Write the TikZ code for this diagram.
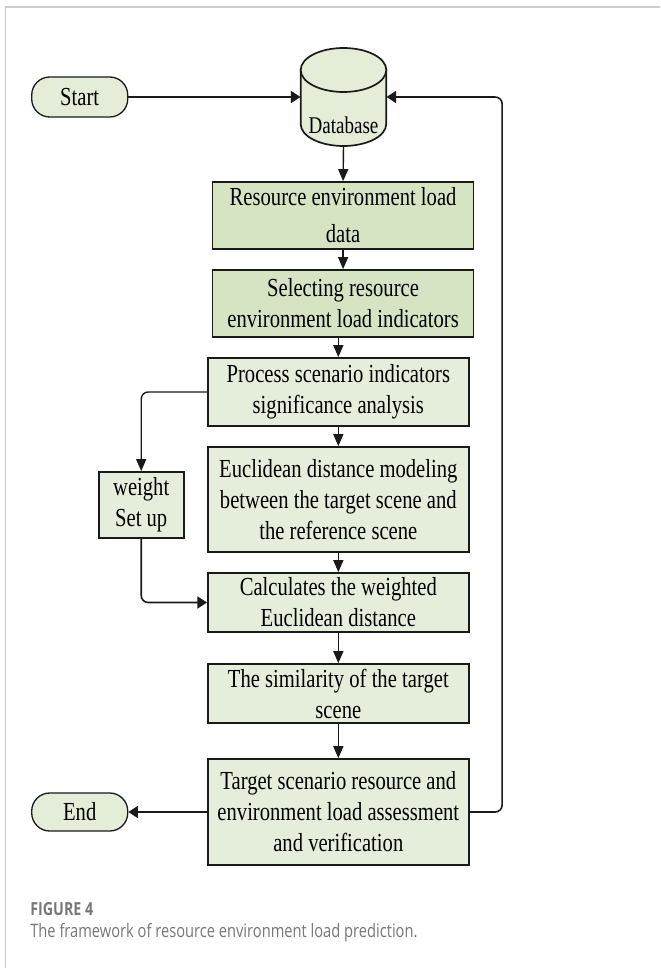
\documentclass[tikz,border=0pt]{standalone}
\usepackage{fontspec}
\setmainfont{Liberation Serif}[FakeStretch=0.7933]
\newfontfamily\capfont{Open Sans}[FakeStretch=0.7933]
\usetikzlibrary{arrows.meta}
\definecolor{darkfill}{HTML}{D6E4C3}
\definecolor{lightfill}{HTML}{E5EEDA}
\definecolor{termfill}{HTML}{E3EDD8}
\definecolor{edge}{HTML}{1A1A1A}
\definecolor{framegray}{HTML}{CCCCCC}
\definecolor{capgray}{HTML}{777777}
\begin{document}
\begin{tikzpicture}[x=0.79327pt,y=-1pt,
  boxtext/.style={font=\fontsize{26}{31}\selectfont, align=center, text=black},
  procbox/.style={boxtext, draw=edge, line width=1.7pt, fill=lightfill, minimum width=261pt, inner sep=0pt},
  darkbox/.style={procbox, fill=darkfill},
  termbox/.style={boxtext, draw=edge, line width=1.3pt, fill=termfill, rounded corners=18pt, minimum width=96pt, inner sep=0pt},
  varr/.style={draw=edge, line width=1.4pt, -{Triangle[length=12pt,width=10pt]}},
  harr/.style={draw=edge, line width=1.6pt, -{Triangle[length=9.5pt,width=12pt]}},
  capbold/.style={font=\capfont\bfseries\fontsize{18}{22}\selectfont, text=capgray, anchor=west, inner sep=0pt},
  captext/.style={font=\capfont\fontsize{18.5}{22}\selectfont, text=capgray, anchor=west, inner sep=0pt}
]
\useasboundingbox (0,0) rectangle (832,968);
\fill[white] (0,0) rectangle (832,968);
\draw[framegray, line width=1.5pt] (7,968) -- (7,7) -- (832,7);

% terminals
\node[termbox, minimum height=40pt] (start) at (100.5,97) {Start};
\node[termbox, minimum height=38pt] (end) at (100.5,812) {End};

% database cylinder
\node[minimum width=85.7pt, minimum height=98pt, inner sep=0pt] (db) at (433,97) {};
\filldraw[fill=termfill, draw=edge, line width=1.7pt]
  (379,70) -- (379,124) arc[start angle=180, end angle=360, x radius=42.8pt, y radius=22pt] -- (487,70) -- cycle;
\filldraw[fill=termfill, draw=edge, line width=1.7pt] (433,70) ellipse [x radius=42.8pt, y radius=22pt];
\node[font=\fontsize{24}{28}\selectfont, inner sep=0pt] (dbtext) at (433,125) {Database};

% process boxes
\node[darkbox, minimum height=67pt] (b1) at (432.5,215.5) {Resource environment load\\[6pt]data};
\node[darkbox, minimum height=67pt] (b2) at (432.5,303.5) {Selecting resource\\environment load indicators};
\node[procbox, minimum height=68pt] (b3) at (426.5,392) {Process scenario indicators\\significance analysis};
\node[procbox, minimum height=105pt] (b4) at (426.5,499.5) {Euclidean distance modeling\\between the target scene and\\the reference scene};
\node[procbox, minimum height=59pt] (b5) at (426.5,602.5) {Calculates the weighted\\Euclidean distance};
\node[procbox, minimum height=59pt] (b6) at (426.5,693.5) {The similarity of the target\\scene};
\node[procbox, minimum height=106pt] (b7) at (426.5,812) {Target scenario resource and\\environment load assessment\\and verification};
\node[procbox, minimum width=85pt, minimum height=66pt] (wt) at (178,505) {weight\\Set up};

% connectors
\draw[harr] (start.east) -- (db.west);
\draw[varr] (db.south) -- (b1.north);
\draw[varr] (b1.south) -- (b2.north);
\draw[varr] (b2.south -| b3.north) -- (b3.north);
\draw[varr] (b3.south) -- (b4.north);
\draw[varr] (b4.south) -- (b5.north);
\draw[varr] (b5.south) -- (b6.north);
\draw[varr] (b6.south) -- (b7.north);
\draw[varr, rounded corners=7pt] (b3.west) -| (wt.north);
\draw[harr, rounded corners=7pt] (wt.south) |- (b5.west);
\draw[harr] (b7.west) -- (end.east);
\coordinate (fbx) at (633,812);
\draw[harr, rounded corners=7pt] (b7.east) -- (fbx) -- (fbx |- db.east) -- (db.east);

% caption
\node[capbold] (cap1) at (38,909) {FIGURE 4};
\node[captext] (cap2) at (38,933) {The framework of resource environment load prediction.};
\end{tikzpicture}
\end{document}
